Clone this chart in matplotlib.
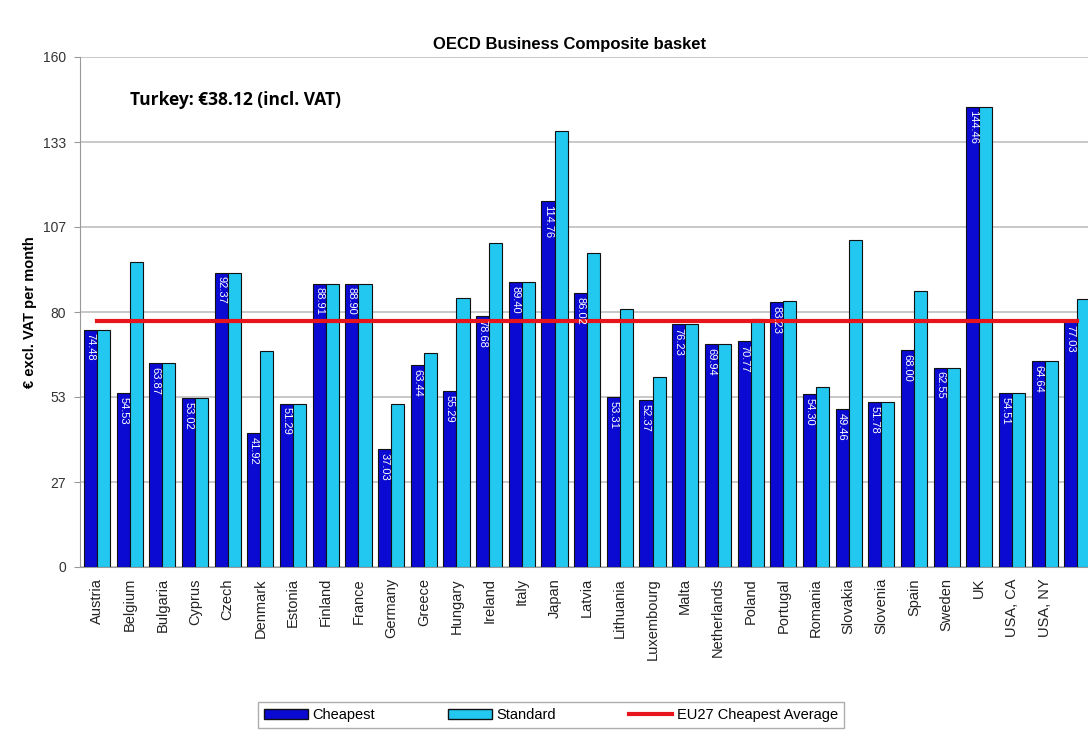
import numpy as np
import matplotlib
matplotlib.use("Agg")
from matplotlib import pyplot as plt
from matplotlib.patches import Patch
from matplotlib.lines import Line2D

countries = ['Austria', 'Belgium', 'Bulgaria', 'Cyprus', 'Czech', 'Denmark', 'Estonia',
             'Finland', 'France', 'Germany', 'Greece', 'Hungary', 'Ireland', 'Italy',
             'Japan', 'Latvia', 'Lithuania', 'Luxembourg', 'Malta', 'Netherlands',
             'Poland', 'Portugal', 'Romania', 'Slovakia', 'Slovenia', 'Spain', 'Sweden',
             'UK', 'USA, CA', 'USA, NY', '']
cheapest = [74.48, 54.53, 63.87, 53.02, 92.37, 41.92, 51.29, 88.91, 88.90, 37.03,
            63.44, 55.29, 78.68, 89.40, 114.76, 86.02, 53.31, 52.37, 76.23, 69.94,
            70.77, 83.23, 54.30, 49.46, 51.78, 68.00, 62.55, 144.46, 54.51, 64.64, 77.03]
standard = [74.48, 95.6, 63.87, 53.02, 92.37, 67.8, 51.29, 88.91, 88.90, 51.1,
            67.0, 84.5, 101.5, 89.40, 136.8, 98.4, 80.8, 59.5, 76.23, 69.94,
            77.7, 83.5, 56.4, 102.6, 51.78, 86.7, 62.55, 144.46, 54.51, 64.64, 84.0]
eu27_avg = 77.03
yticks = np.linspace(0, 160, 7)

c_cheap = '#0a0ad2'
c_std = '#22c8f0'

fig = plt.figure(figsize=(10.88, 7.33), dpi=100)
# axes runs past the right edge, like the cropped original
ax = fig.add_axes([80 / 1088, 1 - 567 / 733, 1017 / 1088, 510 / 733])

x = np.arange(len(countries))
w = 0.4
ax.bar(x - w / 2, cheapest, w, color=c_cheap, edgecolor='#111111', linewidth=0.8, zorder=3)
ax.bar(x + w / 2, standard, w, color=c_std, edgecolor='#111111', linewidth=0.8, zorder=3)
ax.plot([x[0], x[-1]], [eu27_avg, eu27_avg], color='#e8141c', linewidth=3, zorder=4)

for xi, v in zip(x, cheapest):
    ax.text(xi - w / 2, v - 1.2, '%.2f' % v, rotation=-90, ha='center', va='top',
            color='white', fontsize=8, family='Liberation Sans', zorder=5)

ax.set_xlim(-0.52, 30.6)
ax.set_ylim(0, 160)
ax.set_yticks(yticks)
ax.set_yticklabels(['%.0f' % t for t in yticks], family='Liberation Sans', fontsize=10, color='#333333')
ax.set_xticks(x)
ax.set_xticklabels(countries, rotation=90, family='Liberation Sans', fontsize=10.5, color='#222222')
ax.tick_params(axis='x', length=0, pad=8)
ax.tick_params(axis='y', length=4, color='#999999', pad=6)
ax.grid(axis='y', color='#c4c4c4', linewidth=1.3, zorder=0)
for s in ['top', 'right']:
    ax.spines[s].set_visible(False)
ax.spines['left'].set_color('#999999')
ax.spines['bottom'].set_color('#999999')

ax.text(1.0, 146.5, 'Turkey: \u20ac38.12 (incl. VAT)', family='Open Sans', fontweight='bold',
        fontsize=12.5, va='center', ha='left')

fig.text(570 / 1088, 1 - 45 / 733, 'OECD Business Composite basket', ha='center', va='center',
         family='Liberation Sans', fontweight='bold', fontsize=12)
fig.text(30 / 1088, 1 - 312 / 733, '\u20ac excl. VAT per month', rotation=90, ha='center', va='center',
         family='Liberation Sans', fontweight='bold', fontsize=10.5)

handles = [Patch(facecolor=c_cheap, edgecolor='#111111', label='Cheapest'),
           Patch(facecolor=c_std, edgecolor='#111111', label='Standard'),
           Line2D([0], [0], color='#e8141c', linewidth=3, label='EU27 Cheapest Average')]
leg = fig.legend(handles=handles, loc='center', bbox_to_anchor=(551 / 1088, 1 - 715 / 733), ncol=3,
                 frameon=True, fancybox=False, edgecolor='#999999', prop={'family': 'Liberation Sans', 'size': 10.5},
                 columnspacing=5.0, handlelength=3.0, handletextpad=0.3, borderpad=0.4, borderaxespad=0)

fig.savefig('out.png', dpi=100)
